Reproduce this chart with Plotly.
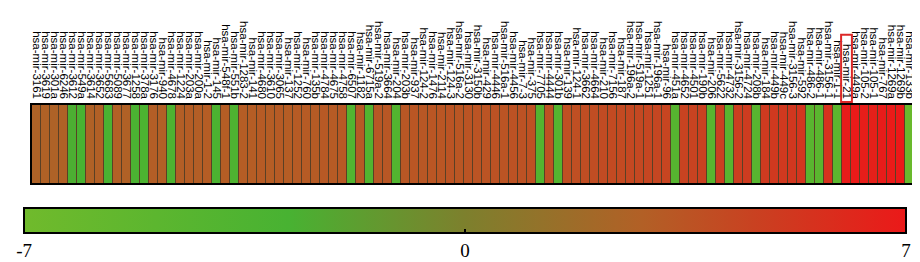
import plotly.graph_objects as go

mirnas = [
    "hsa-mir-3161", "hsa-mir-3619", "hsa-mir-301a", "hsa-mir-6246", "hsa-mir-3612",
    "hsa-mir-549a", "hsa-mir-3614", "hsa-mir-3652", "hsa-mir-5683", "hsa-mir-5089",
    "hsa-mir-3677", "hsa-mir-1258", "hsa-mir-378a", "hsa-mir-3176", "hsa-mir-940",
    "hsa-mir-4678", "hsa-mir-1224", "hsa-mir-203a", "hsa-mir-200a", "hsa-mir-1-2",
    "hsa-mir-145", "hsa-mir-548f-1", "hsa-mir-551b", "hsa-mir-1283-2", "hsa-mir-141",
    "hsa-mir-4680", "hsa-mir-3610", "hsa-mir-3065", "hsa-mir-137", "hsa-mir-1252",
    "hsa-mir-760", "hsa-mir-135b", "hsa-mir-4784", "hsa-mir-4675", "hsa-mir-4758",
    "hsa-mir-6507", "hsa-mir-1182", "hsa-mir-6715a", "hsa-mir-519a-2", "hsa-mir-3664",
    "hsa-mir-204", "hsa-mir-203b", "hsa-mir-937", "hsa-mir-124-2", "hsa-mir-1476",
    "hsa-mir-2114", "hsa-mir-124-3", "hsa-mir-516a-2", "hsa-mir-3130", "hsa-mir-3150b",
    "hsa-mir-429", "hsa-mir-4446", "hsa-mir-516a-1", "hsa-mir-4456", "hsa-mir-7-3",
    "hsa-mir-375", "hsa-mir-7705", "hsa-mir-4444", "hsa-mir-301b", "hsa-mir-139",
    "hsa-mir-124-1", "hsa-mir-3662", "hsa-mir-4664", "hsa-mir-210", "hsa-mir-7156",
    "hsa-mir-187", "hsa-mir-196a-2", "hsa-mir-519a-1", "hsa-mir-1251", "hsa-mir-196a-1",
    "hsa-mir-96", "hsa-mir-451a", "hsa-mir-4652", "hsa-mir-4501", "hsa-mir-190b",
    "hsa-mir-206", "hsa-mir-5622", "hsa-mir-4732", "hsa-mir-3156-2", "hsa-mir-4724",
    "hsa-mir-208b", "hsa-mir-184", "hsa-mir-449b", "hsa-mir-449c", "hsa-mir-3156-3",
    "hsa-mir-592", "hsa-mir-486-2", "hsa-mir-486-1", "hsa-mir-3156-1", "hsa-mir-1-1",
    "hsa-mir-21", "hsa-mir-449a", "hsa-mir-105-2", "hsa-mir-105-1", "hsa-mir-767",
    "hsa-mir-1269a", "hsa-mir-1269b", "hsa-mir-133b",
]

log2fc = [
    2.6, 2.7, 2.6, 2.7, -2.6, -2.8, 2.7, 2.8, -3.0, 2.8,
    2.7, -3.1, -3.2, 2.9, 2.8, -3.3, 2.9, 3.0, 2.9, 3.0,
    -3.2, 3.0, -3.4, 3.0, 3.0, 3.1, 3.0, 3.1, 3.0, 3.1,
    3.1, 3.1, 3.2, 3.1, 3.2, -3.8, 3.2, -3.9, 3.3, 3.3,
    -3.9, 3.3, 3.4, 3.3, 3.4, 3.4, 3.5, 3.4, 3.5, 3.5,
    3.5, 3.6, 3.5, 3.6, 3.6, 3.7, -4.0, 3.7, -4.1, 3.8,
    3.8, 3.9, 3.9, 4.0, 4.1, 4.1, 4.2, 4.2, 4.3, 4.3,
    4.4, -4.3, 4.5, 4.5, 4.6, -4.4, 4.7, -4.4, 4.8, 4.9,
    -4.5, 5.0, 5.1, 5.1, 5.2, 5.3, -4.6, -4.7, 5.5, -4.9,
    6.8, 6.9, 6.7, 6.6, 6.8, 6.9, 7.0, -6.3,
]

highlight = "hsa-mir-21"
zmin, zmax = -7, 7
cbar_ticks = [-7, 0, 7]

colorscale = [
    [0.0, "rgb(112,186,44)"],
    [0.3, "rgb(72,178,50)"],
    [0.5, "rgb(125,128,45)"],
    [0.7, "rgb(178,96,38)"],
    [0.85, "rgb(205,60,32)"],
    [1.0, "rgb(235,25,25)"],
]

fig = go.Figure(go.Heatmap(
    z=[log2fc],
    x=mirnas,
    y=["expr"],
    zmin=zmin, zmax=zmax,
    colorscale=colorscale,
    xgap=1,
    colorbar=dict(
        orientation="h",
        x=-0.009, xanchor="left", len=1, lenmode="fraction",
        yref="container", y=0.235, yanchor="top", thickness=25,
        xpad=0, ypad=0,
        outlinewidth=2, outlinecolor="black",
        tickvals=cbar_ticks, ticktext=[str(v) for v in cbar_ticks],
        ticks="inside", ticklen=5, tickwidth=1.5, tickcolor="black",
        tickfont=dict(family="Liberation Serif", size=19, color="black"),
    ),
))

idx = mirnas.index(highlight)
fig.add_shape(type="rect", xref="x", yref="paper",
              x0=idx - 0.6, x1=idx + 0.6, y0=1.04, y1=1.9,
              line=dict(color="rgb(220,40,40)", width=2))

fig.update_xaxes(side="top", tickangle=90, showline=True, mirror=True,
                 linecolor="black", linewidth=2, ticks="",
                 tickmode="array", tickvals=mirnas, ticktext=mirnas,
                 tickfont=dict(family="Liberation Sans", size=11.5, color="black"),
                 showgrid=False, zeroline=False)
fig.update_yaxes(showticklabels=False, showline=True, mirror=True,
                 linecolor="black", linewidth=2, ticks="",
                 showgrid=False, zeroline=False)

fig.update_layout(
    width=920, height=262,
    margin=dict(l=24, r=14, t=97, b=87),
    paper_bgcolor="white",
    plot_bgcolor="#5a4025",
    showlegend=False,
)

fig.write_html("out.html")
